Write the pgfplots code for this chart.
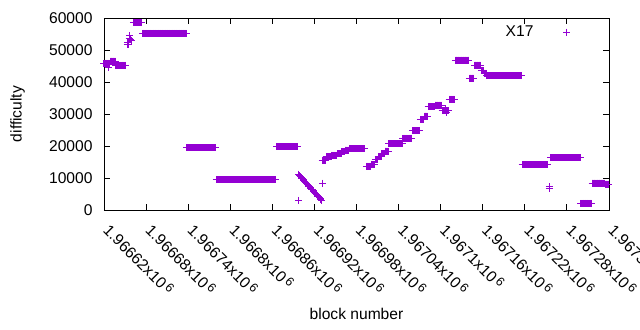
\documentclass[border=0pt]{standalone}
\usepackage{pgfplots}
\pgfplotsset{compat=1.18}
\usepackage{fontspec}
\setmainfont{Liberation Sans}
\definecolor{gpviolet}{RGB}{148,0,211}
\newcommand{\tl}[1]{#1x10\,\raisebox{0.4ex}{\fontsize{12.5bp}{12.5bp}\selectfont 6}}
\begin{document}
\begin{tikzpicture}[font=\fontsize{15.6bp}{18bp}\selectfont]
\path[use as bounding box] (-104bp,-120bp) rectangle (536bp,210bp);
\begin{axis}[
  at={(0,0)}, anchor=south west,
  scale only axis, width=505bp, height=192bp,
  xmin=0, xmax=720, ymin=0, ymax=60000,
  axis line style={line width=0.9bp},
  tick style={line width=0.9bp, black},
  major tick length=6bp,
  tick align=inside, xtick pos=both, ytick pos=both,
  xtick={0,60,120,180,240,300,360,420,480,540,600,660,720},
  xticklabels={\tl{1.96662},\tl{1.96668},\tl{1.96674},\tl{1.9668},\tl{1.96686},\tl{1.96692},\tl{1.96698},\tl{1.96704},\tl{1.9671},\tl{1.96716},\tl{1.96722},\tl{1.96728},\tl{1.96734}},
  xticklabel style={xshift=7bp, yshift=-13bp, rotate=-45, anchor=north west, inner sep=0pt},
  ytick={0,10000,20000,30000,40000,50000,60000},
  scaled y ticks=false,
  yticklabel style={/pgf/number format/1000 sep={}, /pgf/number format/assume math mode=true, xshift=-8bp},
  xlabel={block number},
  xlabel style={at={(axis description cs:0.5,-0.5417)}, anchor=center},
  ylabel={difficulty},
  ylabel style={at={(axis description cs:-0.1713,0.5)}, anchor=center},
  legend style={draw=none, fill=none, at={(axis description cs:0.93,0.927)}, anchor=east, column sep=28bp},
  legend cell align=right,
  legend plot pos=right,
]
% x = block number - 1966620
\addplot[only marks, mark=+, mark size=3.5bp, color=gpviolet, mark options={line width=1bp}] coordinates {
(0,45800)(1,45800)(2,45800)(3,45800)(4,45800)(5,45800)(6,45800)(7,45800)(8,45800)(6,44600)
(9,46500)(10,46500)(11,46500)(12,46500)(13,46500)(14,46500)(15,46500)(16,46500)
(17,45200)(18,45200)(19,45200)(20,45200)(21,45200)(22,45200)(23,45200)(24,45200)(25,45200)(26,45200)(27,45200)(28,45200)(29,45200)(30,45200)(31,45200)
(33,51700)(34,52200)(35,51800)(36,53600)(37,54400)(38,53300)(39,52900)
(42,58500)(43,58500)(44,58500)(45,58500)(46,58500)(47,58500)(48,58500)(49,58500)(50,58500)(51,58500)(52,58500)(53,58500)
(55,55200)(56,55200)(57,55200)(58,55200)(59,55200)(60,55200)(61,55200)(62,55200)(63,55200)(64,55200)(65,55200)(66,55200)(67,55200)(68,55200)(69,55200)(70,55200)
(71,55200)(72,55200)(73,55200)(74,55200)(75,55200)(76,55200)(77,55200)(78,55200)(79,55200)(80,55200)(81,55200)(82,55200)(83,55200)(84,55200)(85,55200)(86,55200)
(87,55200)(88,55200)(89,55200)(90,55200)(91,55200)(92,55200)(93,55200)(94,55200)(95,55200)(96,55200)(97,55200)(98,55200)(99,55200)(100,55200)(101,55200)(102,55200)
(103,55200)(104,55200)(105,55200)(106,55200)(107,55200)(108,55200)(109,55200)(110,55200)(111,55200)(112,55200)(113,55200)(114,55200)(115,55200)(116,55200)(117,55200)
(118,19500)(119,19500)(120,19500)(121,19500)(122,19500)(123,19500)(124,19500)(125,19500)(126,19500)(127,19500)(128,19500)(129,19500)(130,19500)(131,19500)
(132,19500)(133,19500)(134,19500)(135,19500)(136,19500)(137,19500)(138,19500)(139,19500)(140,19500)(141,19500)(142,19500)(143,19500)(144,19500)(145,19500)
(146,19500)(147,19500)(148,19500)(149,19500)(150,19500)(151,19500)(152,19500)(153,19500)(154,19500)(155,19500)(156,19500)(157,19500)(158,19500)(159,19500)
(160,9400)(161,9400)(162,9400)(163,9400)(164,9400)(165,9400)(166,9400)(167,9400)(168,9400)(169,9400)(170,9400)(171,9400)(172,9400)(173,9400)(174,9400)
(175,9400)(176,9400)(177,9400)(178,9400)(179,9400)(180,9400)(181,9400)(182,9400)(183,9400)(184,9400)(185,9400)(186,9400)(187,9400)(188,9400)(189,9400)
(190,9400)(191,9400)(192,9400)(193,9400)(194,9400)(195,9400)(196,9400)(197,9400)(198,9400)(199,9400)(200,9400)(201,9400)(202,9400)(203,9400)(204,9400)
(205,9400)(206,9400)(207,9400)(208,9400)(209,9400)(210,9400)(211,9400)(212,9400)(213,9400)(214,9400)(215,9400)(216,9400)(217,9400)(218,9400)(219,9400)
(220,9400)(221,9400)(222,9400)(223,9400)(224,9400)(225,9400)(226,9400)(227,9400)(228,9400)(229,9400)(230,9400)(231,9400)(232,9400)(233,9400)(234,9400)
(235,9400)(236,9400)(237,9400)(238,9400)(239,9400)(240,9400)(241,9400)(242,9400)(243,9400)(244,9400)(245,9400)
(246,19700)(247,19700)(248,19700)(249,19700)(250,19700)(251,19700)(252,19700)(253,19700)(254,19700)(255,19700)(256,19700)(257,19700)(258,19700)(259,19700)
(260,19700)(261,19700)(262,19700)(263,19700)(264,19700)(265,19700)(266,19700)(267,19700)(268,19700)(269,19700)(270,19700)(271,19700)(272,19700)(273,19700)
(274,19700)(275,19700)(276,19700)
(277,11200)(278,10950)(279,10700)(280,10450)(281,10200)(282,9950)(283,9700)(284,9450)(285,9250)(286,9000)(287,8750)(288,8500)(289,8250)(290,8000)
(291,7750)(292,7500)(293,7250)(294,7000)(295,6800)(296,6550)(297,6300)(298,6050)(299,5800)(300,5550)(301,5300)(302,5050)(303,4800)(304,4550)
(305,4350)(306,4100)(307,3850)(308,3600)(309,3350)(310,3100)(277,3000)(312,8400)
(311,15600)(312,15600)(313,15600)(314,15600)(315,15600)(316,15600)
(317,16600)(318,16600)(319,16600)(320,16600)(321,16600)(322,16600)(323,16600)(324,16600)
(325,17100)(326,17100)(327,17100)(328,17100)(329,17100)(330,17100)(331,17100)(332,17100)
(333,17600)(334,17600)(335,17600)(336,17600)(337,17600)(338,17600)
(339,18200)(340,18200)(341,18200)(342,18200)(343,18200)
(344,18700)(345,18700)(346,18700)(347,18700)(348,18700)(349,18700)
(350,19100)(351,19100)(352,19100)(353,19100)(354,19100)(355,19100)(356,19100)(357,19100)(358,19100)(359,19100)(360,19100)
(361,19100)(362,19100)(363,19100)(364,19100)(365,19100)(366,19100)(367,19100)(368,19100)(369,19100)(370,19100)(371,19100)
(374,13600)(375,13600)(376,13600)(377,13600)(378,13600)(379,13600)(380,13600)
(381,14100)(382,14100)(383,14100)(384,14100)(385,14100)(386,14100)
(387,15700)(388,15700)(389,15700)(390,15700)
(391,16600)(392,16600)(393,16600)(394,16600)(395,16600)
(396,17600)(397,17600)(398,17600)(399,17600)(400,17600)
(401,18400)(402,18400)(403,18400)(404,18400)(405,18400)
(406,20700)(407,20700)(408,20700)(409,20700)(410,20700)(411,20700)(412,20700)(413,20700)(414,20700)(415,20700)
(416,20700)(417,20700)(418,20700)(419,20700)(420,20700)(421,20700)(422,20700)(423,20700)(424,20700)(425,20700)
(426,22400)(427,22400)(428,22400)(429,22400)(430,22400)(431,22400)(432,22400)(433,22400)(434,22400)(435,22400)(436,22400)(437,22400)(438,22400)(439,22400)
(440,24700)(441,24700)(442,24700)(443,24700)(444,24700)(445,24700)(446,24700)(447,24700)(448,24700)(449,24700)(450,24700)
(451,28200)(452,28200)(453,28200)(454,28200)(455,28200)(456,28200)
(457,29300)(458,29300)(459,29300)(460,29300)(461,29300)
(462,32300)(463,32300)(464,32300)(465,32300)(466,32300)(467,32300)(468,32300)(469,32300)(470,32300)(471,32300)
(472,32800)(473,32800)(474,32800)(475,32800)(476,32800)(477,32800)(478,32800)(479,32800)(480,32800)(481,32800)
(482,31000)(483,31000)(484,31000)(485,31000)(486,31000)(487,31000)(488,31000)(489,31000)(490,31000)(491,31000)(487,31700)(489,30400)
(492,34600)(493,34600)(494,34600)(495,34600)(496,34600)(497,34600)(498,34600)(499,34600)(500,34600)
(501,46800)(502,46800)(503,46800)(504,46800)(505,46800)(506,46800)(507,46800)(508,46800)(509,46800)(510,46800)
(511,46800)(512,46800)(513,46800)(514,46800)(515,46800)(516,46800)(517,46800)(518,46800)(519,46800)(520,46800)
(521,41200)(522,41200)(523,41200)(524,41200)(525,41200)(526,41200)(527,41200)
(528,45300)(529,45300)(530,45300)(531,45300)(532,45300)(533,45300)(534,45300)(535,45300)(536,45300)(537,45300)
(538,43500)(539,43500)(540,43500)(541,43500)(542,42700)(543,42700)(544,42700)(545,42700)
(546,42000)(547,42000)(548,42000)(549,42000)(550,42000)(551,42000)(552,42000)(553,42000)(554,42000)(555,42000)(556,42000)(557,42000)(558,42000)
(559,42000)(560,42000)(561,42000)(562,42000)(563,42000)(564,42000)(565,42000)(566,42000)(567,42000)(568,42000)(569,42000)(570,42000)(571,42000)
(572,42000)(573,42000)(574,42000)(575,42000)(576,42000)(577,42000)(578,42000)(579,42000)(580,42000)(581,42000)(582,42000)(583,42000)(584,42000)
(585,42000)(586,42000)(587,42000)(588,42000)(589,42000)(590,42000)(591,42000)(592,42000)(593,42000)(594,42000)(595,42000)
(596,14100)(597,14100)(598,14100)(599,14100)(600,14100)(601,14100)(602,14100)(603,14100)(604,14100)(605,14100)(606,14100)(607,14100)(608,14100)
(609,14100)(610,14100)(611,14100)(612,14100)(613,14100)(614,14100)(615,14100)(616,14100)(617,14100)(618,14100)(619,14100)(620,14100)(621,14100)
(622,14100)(623,14100)(624,14100)(625,14100)(626,14100)(627,14100)(628,14100)(629,14100)(630,14100)(631,14100)(632,14100)
(635,6800)(635,7300)
(637,16300)(638,16300)(639,16300)(640,16300)(641,16300)(642,16300)(643,16300)(644,16300)(645,16300)(646,16300)(647,16300)(648,16300)(649,16300)(650,16300)
(651,16300)(652,16300)(653,16300)(654,16300)(655,16300)(656,16300)(657,16300)(658,16300)(659,16300)(660,16300)(661,16300)(662,16300)(663,16300)(664,16300)
(665,16300)(666,16300)(667,16300)(668,16300)(669,16300)(670,16300)(671,16300)(672,16300)(673,16300)(674,16300)(675,16300)(676,16300)(677,16300)(678,16300)(679,16300)
(680,2100)(681,2100)(682,2100)(683,2100)(684,2100)(685,2100)(686,2100)(687,2100)(688,2100)(689,2100)(690,2100)(691,2100)(692,2100)(693,2100)(694,2100)(695,2100)
(696,8400)(697,8400)(698,8400)(699,8400)(700,8400)(701,8400)(702,8400)(703,8400)(704,8400)(705,8400)(706,8400)(707,8400)(708,8400)(709,8400)
(710,8400)(711,8400)(712,8400)(713,8400)(714,8400)(715,8100)(716,8100)(717,8100)(718,8100)(719,8100)(720,8100)
};
\addlegendentry{X17}
\end{axis}
\end{tikzpicture}
\end{document}
